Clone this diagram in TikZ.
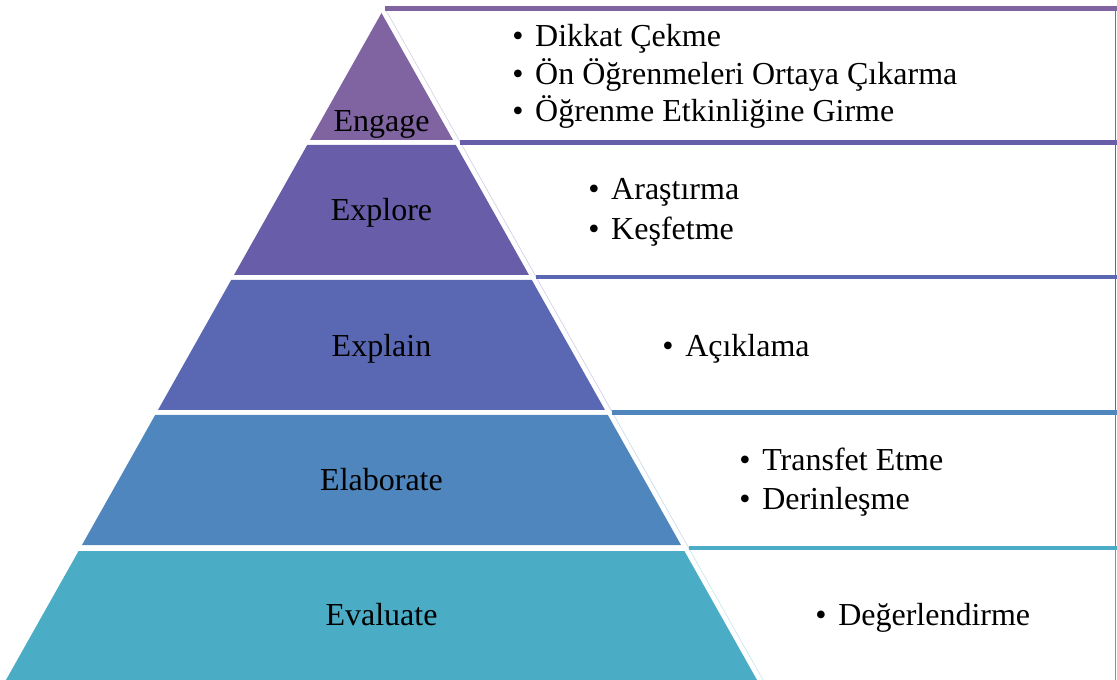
\documentclass[tikz,border=0pt]{standalone}
\usepackage{fontspec}
\setmainfont{Liberation Serif}
\definecolor{cA}{HTML}{8064A2}
\definecolor{cB}{HTML}{675DA8}
\definecolor{cC}{HTML}{5A68B3}
\definecolor{cD}{HTML}{4F86BD}
\definecolor{cE}{HTML}{4BACC6}
\newcommand\bul{\makebox[17.25pt][l]{•}}
\begin{document}
\begin{tikzpicture}[x=0.75pt,y=-0.75pt,
  lbl/.style={inner sep=0pt, anchor=base, font=\fontsize{24}{28}\selectfont},
  itm/.style={inner sep=0pt, anchor=base west, font=\fontsize{24}{28}\selectfont}]
\useasboundingbox (0,0) rectangle (1117,680);
\foreach \t/\b/\c/\ya/\yb in {13/140/cA/8.5/142.5, 145/275/cB/142.5/277, 280/410/cC/277/412.5, 415/545/cD/412.5/548, 551/680/cE/548/680}{
  \fill[\c] ({381.5-(\t-13)*0.563},\t) -- ({381.5+(\t-13)*0.563},\t) -- ({381.5+(\b-13)*0.563},\b) -- ({381.5-(\b-13)*0.563},\b) -- cycle;
  \draw[\c!30, line width=0.5pt] ({387.5+(\ya-13)*0.563},\ya) -- ({387.5+(\yb-13)*0.563},\yb);
  \draw[\c, line width=1.2pt] (1115.5,\ya) -- (1115.5,\yb);
  \draw[\c, line width=3.4pt] ({387.5+(\ya-13)*0.563},\ya) -- (1117,\ya);
}
\node[lbl] (engage) at (381.5,132) {Engage};
\node[lbl] (explore) at (381.5,221) {Explore};
\node[lbl] (explain) at (381.5,357) {Explain};
\node[lbl] (elaborate) at (381.5,491) {Elaborate};
\node[lbl] (evaluate) at (381.5,625) {Evaluate};
\node[itm] (a1) at (512,47) {\bul Dikkat Çekme};
\node[itm] (a2) at (512,85) {\bul Ön Öğrenmeleri Ortaya Çıkarma};
\node[itm] (a3) at (512,122) {\bul Öğrenme Etkinliğine Girme};
\node[itm] (b1) at (588,200) {\bul Araştırma};
\node[itm] (b2) at (588,240) {\bul Keşfetme};
\node[itm] (c1) at (662,357) {\bul Açıklama};
\node[itm] (d1) at (739,471) {\bul Transfet Etme};
\node[itm] (d2) at (739,509) {\bul Derinleşme};
\node[itm] (e1) at (815,625) {\bul Değerlendirme};
\end{tikzpicture}
\end{document}
